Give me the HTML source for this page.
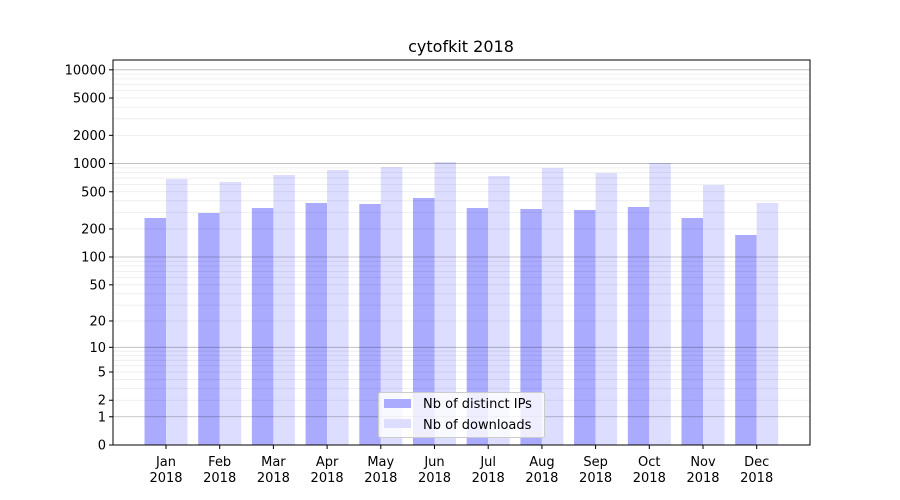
<!DOCTYPE html>
<html><head><meta charset="utf-8"><style>
body{margin:0;background:#fff}
svg{display:block;font-family:"DejaVu Sans","Liberation Sans",sans-serif}
</style></head><body>
<svg id="s" width="900" height="500" viewBox="0 0 900 500" xmlns="http://www.w3.org/2000/svg">
<rect width="900" height="500" fill="#fff"/>
<g id="bars"></g>
<g id="grid"></g>
<rect x="113" y="60" width="697" height="385" fill="none" stroke="#000" stroke-width="1"/>
<g id="ticks" font-size="13" fill="#000"></g>
<text x="461" y="52" font-size="16" text-anchor="middle">cytofkit 2018</text>
<g>
<rect x="378.5" y="392.5" width="166" height="45" rx="2" fill="#fff" fill-opacity="0.8" stroke="#ccc"/>
<rect x="384" y="399" width="27" height="9" fill="#aaaaff"/>
<rect x="384" y="419" width="27" height="9" fill="#ddddff"/>
<text x="423" y="408" font-size="13">Nb of distinct IPs</text>
<text x="423" y="429" font-size="13">Nb of downloads</text>
</g>
</svg>
<script>
var NS="http://www.w3.org/2000/svg";
function Y(v){return 445-93.8*Math.log10(1+v);}
function el(p,t,a,txt){var e=document.createElementNS(NS,t);for(var k in a)e.setAttribute(k,a[k]);if(txt)e.textContent=txt;document.getElementById(p).appendChild(e);return e;}
for(var d=0;d<5;d++){for(var m=2;m<10;m++){var y=Y(m*Math.pow(10,d));if(y>60)el("grid","line",{x1:113,x2:810,y1:y,y2:y,stroke:"#000","stroke-opacity":0.08,"stroke-width":0.8});}}
[1,10,100,1000,10000].forEach(function(v){var y=Y(v);el("grid","line",{x1:113,x2:810,y1:y,y2:y,stroke:"#000","stroke-opacity":0.28,"stroke-width":0.8});});
var ip=[218,213,208,203,204,198,208,209,210,207,218,235];
var dl=[179,182,175,170,167,162,176,168,173,163,185,203];
var mo=["Jan","Feb","Mar","Apr","May","Jun","Jul","Aug","Sep","Oct","Nov","Dec"];
for(var i=0;i<12;i++){var c=166+i*53.7;
el("bars","rect",{x:c-21.5,y:ip[i],width:21.5,height:445-ip[i],fill:"#aaaaff"});
el("bars","rect",{x:c,y:dl[i],width:21.5,height:445-dl[i],fill:"#ddddff"});
el("ticks","line",{x1:c,x2:c,y1:445,y2:449,stroke:"#000"});
el("ticks","text",{x:c,y:466,"text-anchor":"middle"},mo[i]);
el("ticks","text",{x:c,y:482,"text-anchor":"middle"},"2018");}
[0,1,2,5,10,20,50,100,200,500,1000,2000,5000,10000].forEach(function(v){var y=Y(v);
el("ticks","line",{x1:109,x2:113,y1:y,y2:y,stroke:"#000"});
el("ticks","text",{x:106,y:y+4.5,"text-anchor":"end"},String(v));});
</script>
</body></html>
